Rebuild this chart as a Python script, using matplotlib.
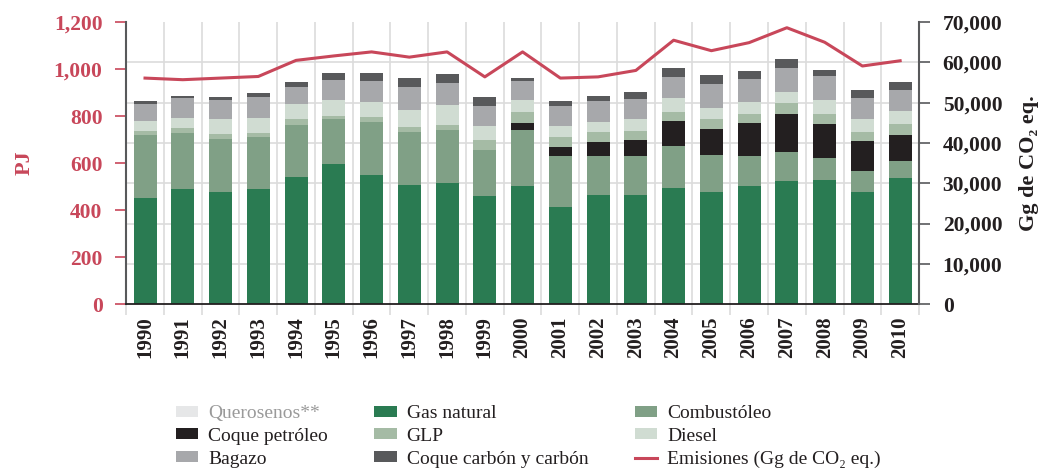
import matplotlib
matplotlib.use("Agg")
import matplotlib.pyplot as plt
import numpy as np

plt.rcParams["font.family"] = ["Liberation Serif", "DejaVu Serif"]

# Datos (PJ por combustible, emisiones en Gg de CO2 eq.)
anios = [str(a) for a in range(1990, 2011)]
gas_natural = [452, 490, 477, 490, 541, 597, 550, 507, 516, 460, 503,
               413, 464, 464, 494, 477, 503, 524, 528, 477, 537]
combustoleo = [268, 239, 226, 222, 222, 191, 226, 226, 225, 196, 238,
               218, 167, 167, 179, 158, 128, 124, 94, 90, 72]
coque_petroleo = [0, 0, 0, 0, 0, 0, 0, 0, 0, 0, 30,
                  38, 59, 68, 107, 111, 140, 162, 145, 128, 111]
glp = [17, 21, 21, 17, 25, 13, 21, 21, 22, 43, 47,
       43, 43, 38, 38, 42, 38, 47, 43, 38, 47]
diesel = [43, 43, 64, 64, 64, 68, 64, 73, 85, 60, 51,
          47, 43, 51, 60, 47, 52, 46, 59, 55, 55]
bagazo = [72, 85, 81, 89, 73, 86, 89, 98, 94, 85, 81,
          85, 89, 86, 89, 103, 98, 103, 103, 90, 90]
coque_carbon = [13, 8, 13, 17, 21, 29, 34, 38, 38, 38, 13,
                21, 21, 29, 39, 38, 34, 38, 25, 34, 34]
querosenos = [0] * 21
emisiones = [56100, 55700, 56100, 56500, 60500, 61600, 62600, 61300, 62600, 56400, 62600,
             56100, 56400, 58000, 65500, 62900, 64900, 68600, 65000, 59100, 60400]

RED = "#c8475a"
DARK = "#231f20"
GRID = "#dcdcdc"

series = [
    ("Gas natural", gas_natural, "#2a7b52"),
    ("Combustóleo", combustoleo, "#80a086"),
    ("Coque petróleo", coque_petroleo, "#231f20"),
    ("GLP", glp, "#a5bba5"),
    ("Diesel", diesel, "#d0dcd2"),
    ("Bagazo", bagazo, "#a7a8ab"),
    ("Coque carbón y carbón", coque_carbon, "#58595b"),
    ("Querosenos**", querosenos, "#e6e7e8"),
]

fig = plt.figure(figsize=(10.6, 4.7), dpi=100)
ax = fig.add_axes([0.119, 0.353, 0.748, 0.600])
x = np.arange(len(anios))

handles = {}
bottom = np.zeros(len(anios))
for name, vals, col in series:
    b = ax.bar(x, vals, 0.61, bottom=bottom, color=col, label=name, zorder=2)
    handles[name] = b
    bottom += np.array(vals)

ax.set_xlim(-0.5, len(anios) - 0.5)
ax.set_ylim(0, 1200)
ax.set_yticks(range(0, 1201, 200))
ax.set_yticklabels([f"{v:,}" for v in range(0, 1201, 200)])
ax.set_xticks(x)
ax.set_xticklabels(anios, rotation=90)

# rejilla: horizontales siguiendo el eje derecho, verticales entre barras
ax.set_yticks([k * 1200 / 7 for k in range(8)], minor=True)
ax.set_xticks(np.arange(-0.5, len(anios)), minor=True)
ax.grid(which="minor", color=GRID, lw=1.2, zorder=0)
ax.tick_params(axis="y", which="minor", length=0)
ax.tick_params(axis="x", which="minor", length=8, color=GRID, width=1.2)
ax.tick_params(axis="x", which="major", length=0, pad=9, labelsize=15, labelcolor=DARK)
ax.tick_params(axis="y", which="major", length=8, color=RED, width=1.2, pad=9,
               labelsize=15.5, labelcolor=RED)
for lbl in ax.get_xticklabels() + ax.get_yticklabels():
    lbl.set_fontweight("bold")

ax.spines["top"].set_visible(False)
ax.spines["left"].set_color("#58595b")
ax.spines["left"].set_linewidth(1.5)
ax.spines["right"].set_visible(False)
ax.spines["bottom"].set_color(DARK)
ax.spines["bottom"].set_linewidth(1.3)
ax.spines["bottom"].set_zorder(3)
ax.set_ylabel("PJ", color=RED, fontsize=16, fontweight="bold", labelpad=14)

# eje derecho: emisiones
ax2 = ax.twinx()
line, = ax2.plot(x, emisiones, color=RED, lw=2.2, label="Emisiones (Gg de CO₂ eq.)")
ax2.set_ylim(0, 70000)
ax2.set_yticks(range(0, 70001, 10000))
ax2.set_yticklabels([f"{v:,}" for v in range(0, 70001, 10000)])
ax2.tick_params(axis="y", length=8, color="#58595b", width=1.2, pad=9,
                labelsize=15.5, labelcolor=DARK)
for lbl in ax2.get_yticklabels():
    lbl.set_fontweight("bold")
for s in ("top", "left", "bottom"):
    ax2.spines[s].set_visible(False)
ax2.spines["right"].set_color("#58595b")
ax2.spines["right"].set_linewidth(1.5)
ax2.set_ylabel("Gg de CO₂ eq.", color=DARK, fontsize=16, fontweight="bold", labelpad=12)

# leyenda en tres columnas (se rellena por columnas)
orden = ["Querosenos**", "Coque petróleo", "Bagazo",
         "Gas natural", "GLP", "Coque carbón y carbón",
         "Combustóleo", "Diesel"]
hs = [handles[n] for n in orden] + [line]
labels = orden + ["Emisiones (Gg de CO₂ eq.)"]
leg = fig.legend(hs, labels, ncol=3, loc="upper left",
                 bbox_to_anchor=(0.166, 1 - 405 / 470), frameon=False,
                 fontsize=14, handlelength=1.15, handleheight=0.5,
                 handletextpad=0.5, columnspacing=2.4, labelspacing=0.3,
                 borderpad=0, borderaxespad=0)
for t in leg.get_texts():
    t.set_color("#9a9a9a" if t.get_text().startswith("Querosenos") else DARK)

fig.savefig("out.png", dpi=100)
